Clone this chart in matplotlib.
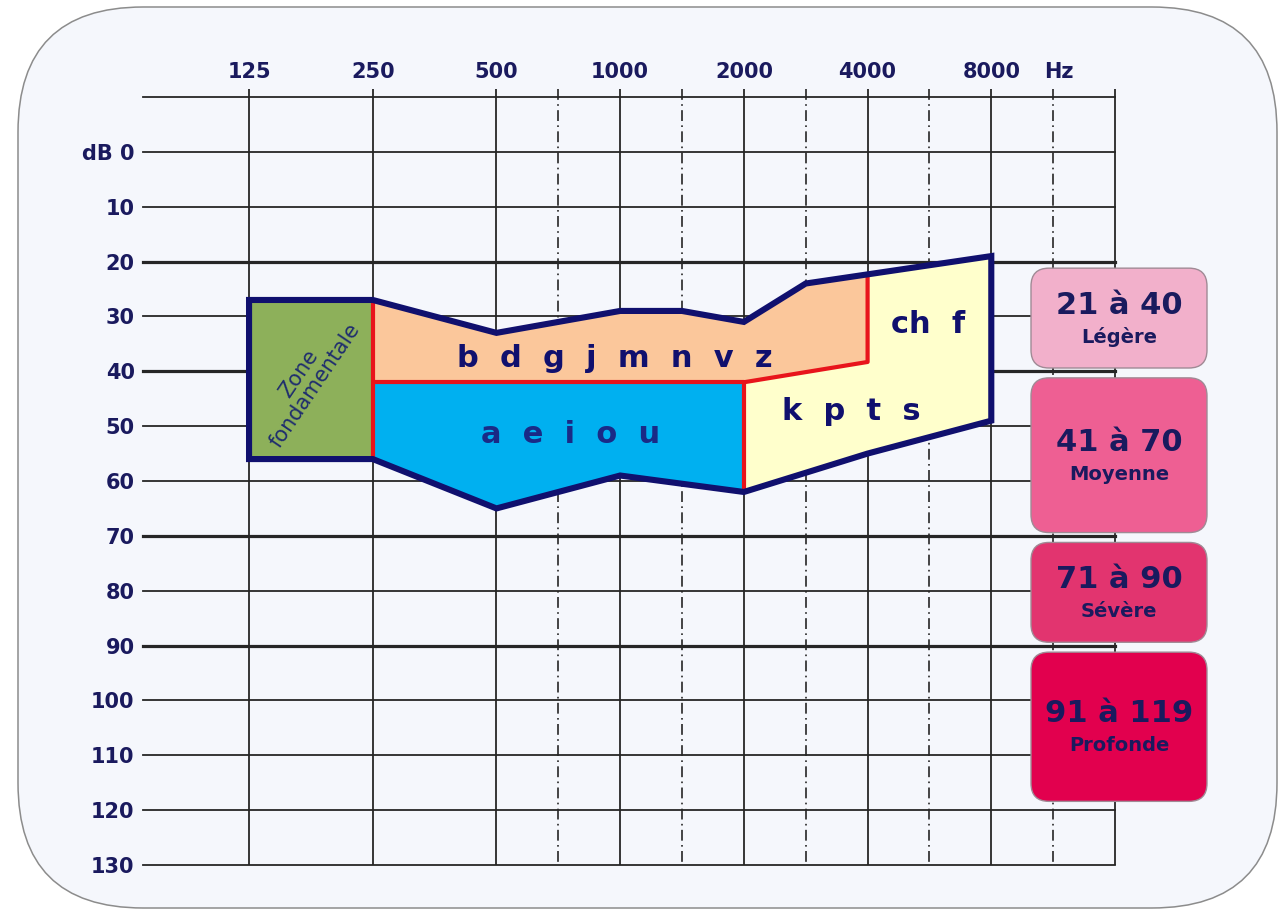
"""Audiogramme : zones phonétiques et degrés de surdité."""

import matplotlib

matplotlib.use("Agg")
import matplotlib.pyplot as plt
import matplotlib.patches as mpatches
from matplotlib.ticker import NullLocator

plt.rcParams.update(
    {
        "font.family": ["DejaVu Sans"],
        "figure.facecolor": "white",
        "savefig.facecolor": "white",
    }
)

W, H = 1281, 913

C = {
    "grid": "#262626",
    "label": "#1A1A5E",
    "navy": "#10106E",
    "red": "#E8141B",
    "frame_fill": "#F5F7FC",
    "frame_edge": "#8C8C8C",
    "fund": "#8DB05A",
    "voiced": "#FBC79B",
    "vowel": "#00B0F0",
    "unvoiced": "#FFFFCC",
    "vowel_text": "#1A2A86",
    "fund_text": "#1F2D6E",
}

# --- axes data -------------------------------------------------------------
freq_ticks = [125, 250, 500, 1000, 2000, 4000, 8000]
freq_labels = ["125", "250", "500", "1000", "2000", "4000", "8000"]
freq_solid = [125, 250, 500, 1000, 2000, 4000, 8000, 16000]
freq_dashed = [707, 1414, 2828, 5657, 11314]
db_ticks = [0, 10, 20, 30, 40, 50, 60, 70, 80, 90, 100, 110, 120, 130]
db_labels = ["dB 0"] + [str(d) for d in db_ticks[1:]]
db_lines = [-10] + db_ticks
db_thick = [20, 40, 70, 90]

# --- speech banana (Hz, dB) ------------------------------------------------
outline_hz = [125, 250, 500, 1000, 1414, 2000, 2828, 8000, 8000, 4000, 2000, 1000, 500, 250, 125]
outline_db = [27, 27, 33, 29, 29, 31, 24, 19, 49, 55, 62, 59, 65, 56, 56]

fund_hz = [125, 250, 250, 125]
fund_db = [27, 27, 56, 56]

voiced_hz = [250, 500, 1000, 1414, 2000, 2828, 4000, 4000, 2000, 250]
voiced_db = [27, 33, 29, 29, 31, 24, 22.3, 38.3, 42, 42]

vowel_hz = [250, 2000, 2000, 1000, 500, 250]
vowel_db = [42, 42, 62, 59, 65, 56]

unvoiced_hz = [2000, 4000, 4000, 8000, 8000, 4000, 2000]
unvoiced_db = [42, 38.3, 22.3, 19, 49, 55, 62]

red_lines = [
    ([250, 250], [27, 56]),
    ([250, 2000, 2000], [42, 42, 62]),
    ([2000, 4000, 4000], [42, 38.3, 22.3]),
]

# label text, Hz, dB (baseline)
phon_labels = [
    ("b  d  g  j  m  n  v  z", 973, 39.2, C["navy"]),
    ("a  e  i  o  u", 756, 53.1, C["vowel_text"]),
    ("ch  f", 5620, 33.0, C["navy"]),
    ("k  p  t  s", 3650, 48.9, C["navy"]),
]

# --- hearing-loss degrees --------------------------------------------------
deg_lo = [21, 41, 71, 91]
deg_hi = [40, 70, 90, 119]
deg_names = ["Légère", "Moyenne", "Sévère", "Profonde"]
deg_colors = ["#F2B0CB", "#EE5F93", "#E2346F", "#E2004E"]


fig = plt.figure(figsize=(W / 100, H / 100), dpi=100)

bg = fig.add_axes([0, 0, 1, 1], zorder=0)
bg.set_xlim(0, W)
bg.set_ylim(H, 0)
bg.set_axis_off()
bg.add_patch(
    mpatches.FancyBboxPatch(
        (18, 7),
        1259,
        901,
        boxstyle="round,pad=0,rounding_size=125",
        facecolor=C["frame_fill"],
        edgecolor=C["frame_edge"],
        linewidth=1.1,
    )
)

ax = fig.add_axes([143 / W, 1 - 865 / H, (1115 - 143) / W, (865 - 97) / H], zorder=1)
ax.set_xscale("log", base=2)
ax.set_xlim(69, 16000)
ax.set_ylim(130, -10)
ax.patch.set_visible(False)
for s in ax.spines.values():
    s.set_visible(False)
ax.xaxis.set_minor_locator(NullLocator())
ax.yaxis.set_minor_locator(NullLocator())
ax.set_xticks(freq_ticks, freq_labels)
ax.set_yticks(db_ticks, db_labels)
ax.tick_params(axis="x", top=True, labeltop=True, bottom=False, labelbottom=False, length=0, pad=11)
ax.tick_params(axis="y", left=True, length=0, pad=6)
for lab in ax.get_xticklabels() + ax.get_yticklabels():
    lab.set_fontsize(15)
    lab.set_fontweight("bold")
    lab.set_color(C["label"])
ax.text(11700, -14.6, "Hz", ha="center", va="center", fontsize=15, fontweight="bold", color=C["label"])

# grid
for d in db_lines:
    ax.axhline(d, color=C["grid"], lw=2.3 if d in db_thick else 1.3, clip_on=False, zorder=1)
ax.vlines(freq_solid, -11.5, 130, color=C["grid"], lw=1.3, clip_on=False, zorder=1)
ax.vlines(freq_dashed, -11.5, 130, color=C["grid"], lw=1.2,
          linestyles=[(0, (6.5, 2.6, 1.0, 2.6))], clip_on=False, zorder=1)

# zones
ax.fill(fund_hz, fund_db, color=C["fund"], lw=0, zorder=3)
ax.fill(voiced_hz, voiced_db, color=C["voiced"], lw=0, zorder=3)
ax.fill(vowel_hz, vowel_db, color=C["vowel"], lw=0, zorder=3)
ax.fill(unvoiced_hz, unvoiced_db, color=C["unvoiced"], lw=0, zorder=3)
for xs, ys in red_lines:
    ax.plot(xs, ys, color=C["red"], lw=3.0, solid_capstyle="butt", zorder=4)
ax.fill(outline_hz, outline_db, fill=False, edgecolor=C["navy"], lw=4.4,
        joinstyle="miter", zorder=5)

for text, f, d, col in phon_labels:
    ax.text(f, d, text, ha="center", va="baseline", fontsize=22, fontweight="bold",
            color=col, zorder=6)
ax.text(173, 41.5, "Zone\nfondamentale", ha="center", va="center", fontsize=15,
        rotation=56, rotation_mode="anchor", multialignment="center",
        color=C["fund_text"], linespacing=1.0, zorder=6)

# degree boxes on a pixel-based overlay
ov = fig.add_axes([0, 0, 1, 1], zorder=2)
ov.set_xlim(0, W)
ov.set_ylim(H, 0)
ov.set_axis_off()
ov.patch.set_visible(False)


def px_y(db):
    return H - ax.transData.transform((1000, db))[1]


bx0, bx1 = 1031, 1207
for lo, hi, name, col in zip(deg_lo, deg_hi, deg_names, deg_colors):
    y0 = px_y(lo + 0.2)
    y1 = px_y(hi - 0.6)
    ov.add_patch(
        mpatches.FancyBboxPatch(
            (bx0, y0),
            bx1 - bx0,
            y1 - y0,
            boxstyle="round,pad=0,rounding_size=18",
            facecolor=col,
            edgecolor="#A08A95",
            linewidth=1.0,
        )
    )
    cy = (y0 + y1) / 2
    cx = (bx0 + bx1) / 2
    ov.text(cx, cy - 13, f"{lo} à {hi}", ha="center", va="center", fontsize=22,
            fontweight="bold", color=C["label"])
    ov.text(cx, cy + 19, name, ha="center", va="center", fontsize=14,
            fontweight="bold", color=C["label"])

fig.savefig("out.png", dpi=100)
plt.close(fig)
